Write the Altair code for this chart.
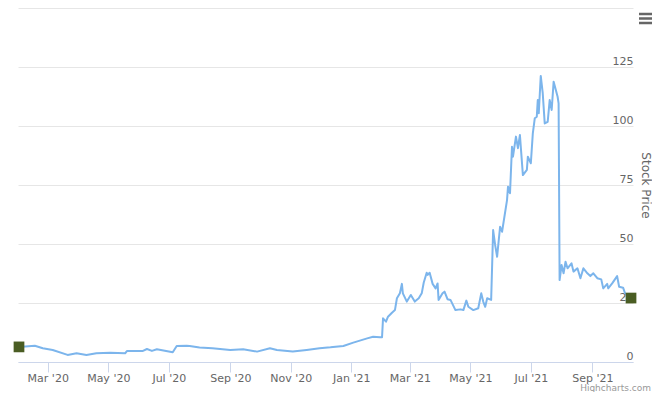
import altair as alt
import pandas as pd

dates = [
    "2020-02-01", "2020-02-17", "2020-02-25", "2020-03-06", "2020-03-21", "2020-03-30",
    "2020-04-09", "2020-04-19", "2020-05-03", "2020-05-18", "2020-05-20", "2020-06-05",
    "2020-06-09", "2020-06-14", "2020-06-19", "2020-07-05", "2020-07-09", "2020-07-19",
    "2020-07-22", "2020-08-01", "2020-08-14", "2020-09-01", "2020-09-14", "2020-09-28",
    "2020-10-11", "2020-10-18", "2020-11-03", "2020-11-17", "2020-11-30", "2020-12-11",
    "2020-12-24", "2021-01-03", "2021-01-17", "2021-01-23", "2021-01-30", "2021-02-01",
    "2021-02-02", "2021-02-05", "2021-02-07", "2021-02-11", "2021-02-14", "2021-02-16",
    "2021-02-19", "2021-02-21", "2021-02-22", "2021-02-26", "2021-03-02", "2021-03-06",
    "2021-03-10", "2021-03-13", "2021-03-15", "2021-03-18", "2021-03-19", "2021-03-21",
    "2021-03-24", "2021-03-27", "2021-03-29", "2021-03-30", "2021-04-03", "2021-04-05",
    "2021-04-08", "2021-04-11", "2021-04-16", "2021-04-21", "2021-04-24", "2021-04-27",
    "2021-04-29", "2021-05-04", "2021-05-09", "2021-05-12", "2021-05-14", "2021-05-16",
    "2021-05-18", "2021-05-22", "2021-05-24", "2021-05-26", "2021-05-28", "2021-05-31",
    "2021-06-02", "2021-06-07", "2021-06-08", "2021-06-10", "2021-06-12", "2021-06-13",
    "2021-06-16", "2021-06-18", "2021-06-20", "2021-06-23", "2021-06-27", "2021-06-28",
    "2021-07-01", "2021-07-03", "2021-07-05", "2021-07-07", "2021-07-08", "2021-07-09",
    "2021-07-11", "2021-07-13", "2021-07-15", "2021-07-18", "2021-07-20", "2021-07-22",
    "2021-07-24", "2021-07-28", "2021-07-29", "2021-07-30", "2021-08-01", "2021-08-03",
    "2021-08-05", "2021-08-07", "2021-08-11", "2021-08-13", "2021-08-17", "2021-08-20",
    "2021-08-23", "2021-08-27", "2021-08-30", "2021-09-02", "2021-09-06", "2021-09-10",
    "2021-09-12", "2021-09-16", "2021-09-17", "2021-09-21", "2021-09-26", "2021-09-28",
    "2021-10-02", "2021-10-04", "2021-10-10",
]
prices = [
    6.4, 6.9, 5.8, 5.1, 3.0, 3.7,
    3.0, 3.7, 3.9, 3.7, 4.7, 4.7,
    5.5, 4.7, 5.4, 4.1, 6.8, 6.9,
    6.8, 6.1, 5.8, 5.1, 5.4, 4.4,
    5.8, 5.1, 4.4, 5.1, 5.8, 6.2,
    6.8, 8.2, 10.0, 10.7, 10.5, 10.5,
    18.5, 17.1, 19.2, 20.9, 22.0, 27.0,
    29.1, 33.1, 29.1, 25.6, 28.4, 25.6,
    27.0, 29.1, 33.6, 37.8, 36.9, 37.8,
    33.1, 31.2, 33.3, 26.3, 29.1, 29.8,
    26.6, 26.3, 22.0, 22.3, 22.0, 26.0,
    23.4, 22.0, 22.8, 29.1, 25.6, 23.4,
    27.0, 26.3, 55.9, 49.6, 44.6, 57.3,
    55.2, 68.6, 74.3, 71.5, 91.2, 87.0,
    95.5, 90.6, 96.2, 79.2, 81.4, 87.0,
    84.2, 96.9, 103.3, 103.9, 111.0, 105.4,
    121.2, 113.9, 101.1, 101.8, 111.0, 106.8,
    118.8, 112.4, 109.6, 34.7, 41.1, 37.6,
    42.5, 39.7, 41.8, 38.3, 39.7, 35.5,
    39.7, 37.6, 36.4, 37.6, 35.5, 35.0,
    31.2, 33.1, 31.2, 33.3, 36.4, 31.9,
    31.5, 29.1, 27.1,
]
y_ticks = [0, 25, 50, 75, 100, 125, 150]
x_ticks = [(2020, 3), (2020, 5), (2020, 7), (2020, 9), (2020, 11),
           (2021, 1), (2021, 3), (2021, 5), (2021, 7), (2021, 9)]
credit_text = ["Highcharts.com"]

df = pd.DataFrame({"date": dates, "price": prices})
ends = df.iloc[[0, -1]]
one = pd.DataFrame({"t": credit_text})

FONT = "DejaVu Sans"

x_enc = alt.X(
    "date:T",
    scale=alt.Scale(
        type="utc",
        domain=[alt.DateTime(year=2020, month=1, date=31, utc=True),
                alt.DateTime(year=2021, month=10, date=12, utc=True)],
    ),
    axis=alt.Axis(
        title=None,
        values=[alt.DateTime(year=y, month=m, date=1, utc=True) for y, m in x_ticks],
        format="%b '%y",
        grid=False,
        domainColor="#ccd6eb",
        tickColor="#ccd6eb",
        tickSize=10,
        labelPadding=0,
        labelFontSize=11,
        labelColor="#666666",
        labelFont=FONT,
    ),
)
y_enc = alt.Y(
    "price:Q",
    scale=alt.Scale(domain=[0, 150], nice=False, zero=True),
    axis=alt.Axis(
        orient="right",
        values=y_ticks,
        labelExpr="datum.value == 150 ? '' : datum.label",
        domain=False,
        ticks=False,
        tickSize=0,
        labelAlign="right",
        labelBaseline="bottom",
        labelPadding=0,
        labelOffset=-1,
        labelFontSize=11,
        labelColor="#666666",
        labelFont=FONT,
        gridColor="#e6e6e6",
        title="Stock Price",
        titleAngle=90,
        titlePadding=5,
        titleFontSize=12,
        titleFontWeight="normal",
        titleColor="#666666",
        titleFont=FONT,
    ),
)

line = alt.Chart(df).mark_line(color="#7cb5ec", strokeWidth=2, strokeJoin="round").encode(
    x=x_enc, y=y_enc
)
markers = alt.Chart(ends).mark_square(color="#4a5d23", opacity=1, size=115).encode(
    x="date:T", y="price:Q"
)

menu = [
    alt.Chart(one).mark_rule(color="#666666", strokeWidth=2.5).encode(
        x=alt.value(621), x2=alt.value(636), y=alt.value(yy)
    )
    for yy in (6, 10.5, 15)
]
credit = alt.Chart(one).mark_text(
    fontSize=9, color="#999999", align="right", baseline="alphabetic", font=FONT
).encode(text="t:N", x=alt.value(633), y=alt.value(383))

chart = alt.layer(line, markers, *menu, credit).properties(
    width=615,
    height=354,
    autosize=alt.AutoSizeParams(type="none"),
    padding={"left": 10, "top": 0, "right": 19, "bottom": 30},
).configure(font=FONT).configure_view(strokeWidth=0)

chart.save("out.html", embed_options={"renderer": "svg", "actions": False})
